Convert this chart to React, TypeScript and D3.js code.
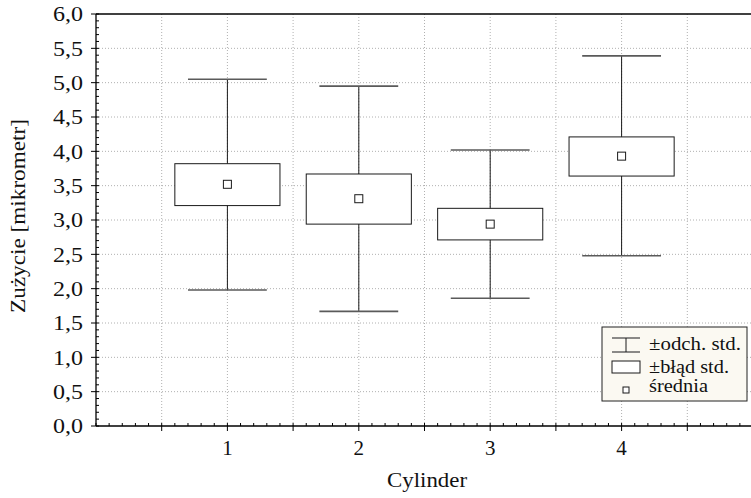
import React from 'react';
import * as d3 from 'd3';

// cylinder data
const cylinders = [1, 2, 3, 4];
const means = [3.52, 3.31, 2.94, 3.93];
const seLow = [3.21, 2.94, 2.71, 3.64];
const seHigh = [3.82, 3.67, 3.17, 4.21];
const sdLow = [1.98, 1.67, 1.86, 2.48];
const sdHigh = [5.05, 4.95, 4.02, 5.39];
const yTicks = [0, 0.5, 1, 1.5, 2, 2.5, 3, 3.5, 4, 4.5, 5, 5.5, 6];
const legendLabels = ['±odch. std.', '±błąd std.', 'średnia'];
const legendWidths = [92, 80, 59];

const W = 751;
const H = 498;
const font = 'Liberation Serif';

const App = () => {
  const x = d3.scaleLinear().domain([0, 5]).range([96, 753]);
  const y = d3.scaleLinear().domain([0, 6]).range([426, 14]);
  const fmt = (v: number) => v.toFixed(1).replace('.', ',');

  const xGrid = d3.range(0.5, 5, 0.5);
  const xMinor = d3.range(0, 5.01, 0.1);
  const yMinor = d3.range(0, 6.01, 0.1);

  const boxHalf = 0.4;
  const capHalf = 0.3;
  const ink = '#1a1a1a';
  const capInk = '#5a5a5a';

  return (
    <svg width={W} height={H} style={{position: 'absolute', left: 0, top: 0, background: '#fff'}}>
      {/* grid */}
      {yTicks.slice(1, -1).map(t => (
        <line key={'gy' + t} x1={x(0)} x2={W} y1={y(t)} y2={y(t)}
          stroke="#b0b0b0" strokeDasharray="1,2" />
      ))}
      {xGrid.map(t => (
        <line key={'gx' + t} x1={x(t)} x2={x(t)} y1={y(6)} y2={y(0)}
          stroke="#b0b0b0" strokeDasharray="1,2" />
      ))}

      {/* boxes and whiskers */}
      {cylinders.map((c, i) => (
        <g key={'c' + c}>
          <line x1={x(c)} x2={x(c)} y1={y(sdHigh[i])} y2={y(sdLow[i])} stroke={ink} />
          <line x1={x(c - capHalf)} x2={x(c + capHalf)} y1={y(sdHigh[i])} y2={y(sdHigh[i])} stroke={capInk} strokeWidth={1.6} />
          <line x1={x(c - capHalf)} x2={x(c + capHalf)} y1={y(sdLow[i])} y2={y(sdLow[i])} stroke={capInk} strokeWidth={1.6} />
          <rect x={x(c - boxHalf)} width={x(c + boxHalf) - x(c - boxHalf)}
            y={y(seHigh[i])} height={y(seLow[i]) - y(seHigh[i])}
            fill="#fff" stroke={ink} />
          <rect x={x(c) - 4} y={y(means[i]) - 4} width={8} height={8} fill="#fff" stroke={ink} />
        </g>
      ))}

      {/* axes */}
      <line x1={x(0)} x2={W} y1={y(0)} y2={y(0)} stroke="#000" strokeWidth={1.3} />
      <line x1={x(0)} x2={W} y1={y(6)} y2={y(6)} stroke="#000" strokeWidth={1.3} />
      <line x1={x(0)} x2={x(0)} y1={y(0)} y2={y(6)} stroke="#000" strokeWidth={1.3} />
      {xMinor.map(t => (
        <line key={'mx' + t} x1={x(t)} x2={x(t)} y1={y(0)} y2={y(0) - 3} stroke="#000" />
      ))}
      {xGrid.map(t => (
        <line key={'tx' + t} x1={x(t)} x2={x(t)} y1={y(0)} y2={y(0) + 5} stroke="#000" />
      ))}
      {yMinor.map(t => (
        <line key={'my' + t.toFixed(1)} x1={x(0)} x2={x(0) + 3} y1={y(t)} y2={y(t)} stroke="#000" />
      ))}
      {yTicks.map(t => (
        <g key={'ty' + t}>
          <line x1={x(0) - 5} x2={x(0)} y1={y(t)} y2={y(t)} stroke="#000" />
          <text x={83} y={y(t)} dy="0.35em" textAnchor="end" fontFamily={font} fontSize={21}
            textLength={30} lengthAdjust="spacingAndGlyphs" fill="#111">
            {fmt(t)}
          </text>
        </g>
      ))}
      {cylinders.map(c => (
        <text key={'lx' + c} x={x(c)} y={y(0) + 29} textAnchor="middle" fontFamily={font} fontSize={21} fill="#111">
          {c}
        </text>
      ))}
      <text x={427} y={487} textAnchor="middle" fontFamily={font} fontSize={22}
        textLength={80} lengthAdjust="spacingAndGlyphs" fill="#111">Cylinder</text>
      <text transform={`translate(25,216) rotate(-90)`} textAnchor="middle" fontFamily={font} fontSize={22}
        textLength={194} lengthAdjust="spacingAndGlyphs" fill="#111">
        Zużycie [mikrometr]
      </text>

      {/* legend */}
      <g transform="translate(602,327)">
        <rect x={0} y={0} width={145} height={74} fill="#fbf9f2" stroke="#222" />
        <line x1={10} x2={38} y1={11} y2={11} stroke={capInk} strokeWidth={1.4} />
        <line x1={10} x2={38} y1={25} y2={25} stroke={capInk} strokeWidth={1.4} />
        <line x1={24} x2={24} y1={11} y2={25} stroke={ink} />
        <rect x={10} y={34} width={28} height={12} fill="#fff" stroke={ink} />
        <rect x={21} y={60} width={6} height={6} fill="#fff" stroke={ink} />
        {legendLabels.map((l, i) => (
          <text key={l} x={47} y={[23, 46, 65][i]} fontFamily={font} fontSize={18}
            textLength={legendWidths[i]} lengthAdjust="spacingAndGlyphs" fill="#111">{l}</text>
        ))}
      </g>
    </svg>
  );
};

export default App;
